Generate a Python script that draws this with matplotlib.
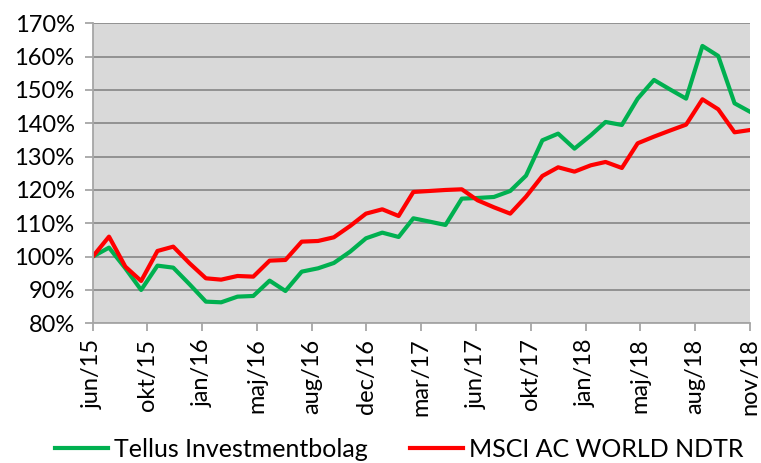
import matplotlib
matplotlib.use('Agg')
import matplotlib.pyplot as plt
import pandas as pd
import numpy as np

plt.rcParams['font.family'] = ['Lato', 'DejaVu Sans']

# monthly values, jun/15 .. nov/18 (month ends)
months = pd.date_range('2015-06-30', '2018-11-30', freq='ME')

tellus = [100, 102.7, 96.5, 90, 97.3, 96.7, 91.7, 86.5, 86.3, 88, 88.2, 92.8,
          89.7, 95.5, 96.5, 98.1, 101.5, 105.5, 107.2, 105.9, 111.5, 110.5,
          109.5, 117.4, 117.6, 117.9, 119.7, 124.3, 134.9, 136.9, 132.4, 136.4,
          140.4, 139.5, 147.4, 153, 150.2, 147.4, 163.2, 160.2, 146, 143.4]
msci = [100, 106, 97, 92.7, 101.7, 103, 98, 93.5, 93.1, 94.2, 94, 98.8,
        99, 104.5, 104.7, 105.8, 109.2, 112.9, 114.2, 112.2, 119.4, 119.7,
        120, 120.2, 116.9, 114.8, 112.9, 118, 124.2, 126.8, 125.5, 127.4,
        128.4, 126.6, 134, 136, 137.8, 139.6, 147.2, 144.2, 137.3, 138]

tick_labels = ['jun/15', 'okt/15', 'jan/16', 'maj/16', 'aug/16', 'dec/16', 'mar/17',
               'jun/17', 'okt/17', 'jan/18', 'maj/18', 'aug/18', 'nov/18']
tick_step_days = 104

fig = plt.figure(figsize=(7.61, 4.63), dpi=100)
ax = fig.add_axes([0.1218, 0.3017, 0.8642, 0.648])
ax.set_facecolor('#D9D9D9')

ax.plot(months, tellus, color='#00B050', lw=3, label='Tellus Investmentbolag', solid_joinstyle='round')
ax.plot(months, msci, color='#FF0000', lw=3, label='MSCI AC WORLD NDTR', solid_joinstyle='round')

ax.set_ylim(80, 170)
ax.set_yticks(np.arange(80, 171, 10))
ax.set_yticklabels([f'{v}%' for v in range(80, 171, 10)])
ax.grid(axis='y', color='#8C8C8C', lw=1.3)
ax.set_axisbelow(True)

ticks = [months[0] + pd.Timedelta(days=tick_step_days * k) for k in range(len(tick_labels))]
ax.set_xlim(months[0], months[-1])
ax.set_xticks(ticks)
ax.set_xticklabels(tick_labels, rotation=90)

for s in ['top', 'right']:
    ax.spines[s].set_visible(False)
for s in ['left', 'bottom']:
    ax.spines[s].set_color('#A6A6A6')
    ax.spines[s].set_linewidth(1.3)
ax.tick_params(axis='both', length=6, width=1.3, color='#A6A6A6', labelsize=17, labelcolor='black')
ax.tick_params(axis='y', pad=7)
ax.tick_params(axis='x', pad=5)

fig.legend(loc='center', bbox_to_anchor=(0.525, 0.03), ncol=2, frameon=False,
           fontsize=18, handlelength=2.1, columnspacing=1.7, handletextpad=0.25)

fig.savefig('out.png', dpi=100)
